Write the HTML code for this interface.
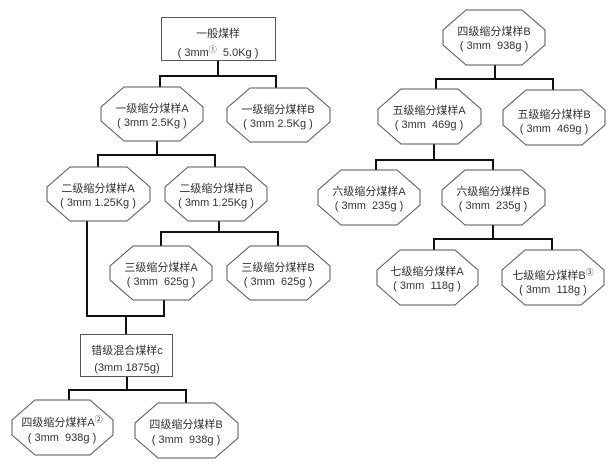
<!DOCTYPE html>
<html><head><meta charset="utf-8"><style>
html,body{margin:0;padding:0;background:#fff;width:616px;height:469px;overflow:hidden}
svg text{font-family:"Liberation Sans","Noto Sans CJK SC",sans-serif;font-size:11px;fill:#333;text-anchor:middle;white-space:pre}
</style></head><body>
<svg width="616" height="469" viewBox="0 0 616 469" xmlns="http://www.w3.org/2000/svg">
<g fill="none" stroke="#111" stroke-width="2">
<path d="M218 60V76M160 76H277M160 75V88M276 75V88"/>
<path d="M157 141V155M98 155H216M98 154V167M215 154V167"/>
<path d="M219 221V232M161 232H279M161 231V246M278 231V246"/>
<path d="M87 221V316M86 316H165M164 300V316M126 316V334"/>
<path d="M127 376V390M69 390H187M69 389V401M186 389V403"/>
<path d="M495 65V79M436 79H554M436 78V90M553 78V90"/>
<path d="M434 144V160M376 160H494M376 159V170M493 159V170"/>
<path d="M493 225V239M434 239H553M434 238V250M552 238V250"/>
</g>
<g fill="#fff" stroke="#555" stroke-width="1">
<rect x="161.5" y="17.5" width="114" height="43"/>
<rect x="80.5" y="334.5" width="92" height="42"/>
<polygon points="124,87 180,87 203,107 203,121 180,141 124,141 101,121 101,107"/>
<polygon points="250,88 307,88 330,108 330,122 307,142 250,142 227,122 227,108"/>
<polygon points="70,167 127,167 150,187 150,201 127,221 70,221 47,201 47,187"/>
<polygon points="188,167 244,167 267,187 267,201 244,221 188,221 165,201 165,187"/>
<polygon points="133,246 189,246 212,266 212,280 189,300 133,300 110,280 110,266"/>
<polygon points="250,246 307,246 330,266 330,280 307,300 250,300 227,280 227,266"/>
<polygon points="35,400 90,400 113,420 113,435 90,455 35,455 12,435 12,420"/>
<polygon points="158,403 215,403 238,423 238,438 215,458 158,458 135,438 135,423"/>
<polygon points="466,10 522,10 545,30 545,45 522,65 466,65 443,45 443,30"/>
<polygon points="401,89 458,89 481,109 481,124 458,144 401,144 378,124 378,109"/>
<polygon points="526,90 582,90 605,110 605,125 582,145 526,145 503,125 503,110"/>
<polygon points="341,170 397,170 420,190 420,205 397,225 341,225 318,205 318,190"/>
<polygon points="465,170 522,170 545,190 545,205 522,225 465,225 442,205 442,190"/>
<polygon points="400,250 455,250 478,270 478,285 455,305 400,305 377,285 377,270"/>
<polygon points="525,250 581,250 604,270 604,285 581,305 525,305 502,285 502,270"/>
</g>
<text x="218" y="37">一般煤样</text><text x="218" y="56">( 3mm<tspan font-size="8" dy="-4">①</tspan><tspan dy="4">  5.0Kg )</tspan></text>
<text x="127" y="354">错级混合煤样c</text><text x="127" y="371">(3mm 1875g)</text>
<text x="152" y="112">一级缩分煤样A</text><text x="152" y="126">( 3mm 2.5Kg )</text>
<text x="278" y="113">一级缩分煤样B</text><text x="278" y="127">( 3mm 2.5Kg )</text>
<text x="98" y="192">二级缩分煤样A</text><text x="98" y="206">( 3mm 1.25Kg )</text>
<text x="216" y="192">二级缩分煤样B</text><text x="216" y="206">( 3mm 1.25Kg )</text>
<text x="161" y="271">三级缩分煤样A</text><text x="161" y="285">( 3mm  625g )</text>
<text x="278" y="271">三级缩分煤样B</text><text x="278" y="285">( 3mm  625g )</text>
<text x="62" y="426">四级缩分煤样A<tspan font-size="8" dy="-4">②</tspan></text><text x="62" y="441">( 3mm  938g )</text>
<text x="186" y="428">四级缩分煤样B</text><text x="186" y="443">( 3mm  938g )</text>
<text x="494" y="35">四级缩分煤样B</text><text x="494" y="49">( 3mm  938g )</text>
<text x="429" y="114">五级缩分煤样A</text><text x="429" y="128">( 3mm  469g )</text>
<text x="554" y="118">五级缩分煤样B</text><text x="554" y="132">( 3mm  469g )</text>
<text x="369" y="195">六级缩分煤样A</text><text x="369" y="209">( 3mm  235g )</text>
<text x="493" y="195">六级缩分煤样B</text><text x="493" y="209">( 3mm  235g )</text>
<text x="427" y="275">七级缩分煤样A</text><text x="427" y="289">( 3mm  118g )</text>
<text x="553" y="279">七级缩分煤样B<tspan font-size="8" dy="-4">③</tspan></text><text x="553" y="293">( 3mm  118g )</text>
</svg>
</body></html>
